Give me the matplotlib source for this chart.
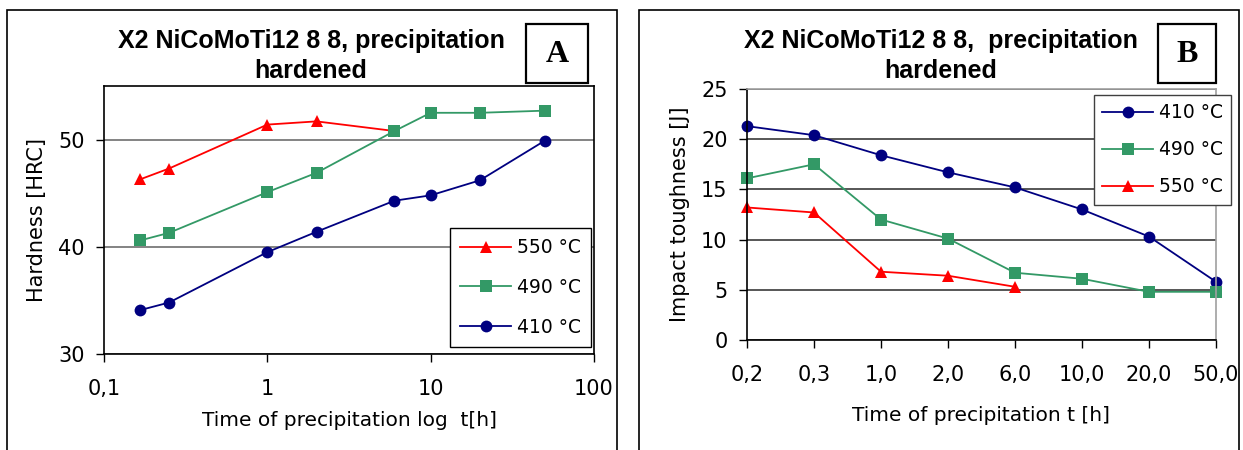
import matplotlib
matplotlib.use("Agg")
import matplotlib.pyplot as plt
from matplotlib.patches import Rectangle
from matplotlib.ticker import FixedLocator, NullLocator

# hardness vs log time (panel A)
time_h = [0.167, 0.25, 1, 2, 6, 10, 20, 50]
hard_410 = [34.1, 34.8, 39.5, 41.4, 44.3, 44.8, 46.2, 49.9]
hard_490 = [40.6, 41.3, 45.1, 46.9, 50.8, 52.5, 52.5, 52.7]
hard_550 = [46.3, 47.3, 51.4, 51.7, 50.8]

# impact toughness vs time category (panel B)
time_labels = ["0,2", "0,3", "1,0", "2,0", "6,0", "10,0", "20,0", "50,0"]
kv_410 = [21.3, 20.4, 18.4, 16.7, 15.2, 13.0, 10.3, 5.8]
kv_490 = [16.1, 17.5, 12.0, 10.1, 6.7, 6.1, 4.8, 4.8]
kv_550 = [13.2, 12.7, 6.8, 6.4, 5.3]

RED = '#FF0000'
GREEN = '#339966'
NAVY = '#000080'

W, H = 1243, 450
fig = plt.figure(figsize=(W / 100, H / 100), dpi=100)


def fx(px):
	return px / W


def fy(py):
	return 1 - py / H


def panel_frame(x0, x1):
	fig.add_artist(Rectangle((fx(x0), fy(470)), fx(x1) - fx(x0), fy(10) - fy(470),
		transform=fig.transFigure, fill=False, ec='black', lw=1.2))


def letter_box(x0, x1, letter):
	fig.add_artist(Rectangle((fx(x0), fy(83)), fx(x1) - fx(x0), fy(24) - fy(83),
		transform=fig.transFigure, fill=False, ec='black', lw=1.6))
	fig.text(fx((x0 + x1) / 2), fy(54), letter, ha='center', va='center',
		family='Liberation Serif', weight='bold', fontsize=23)


def style_axes(ax, grid_col):
	ax.tick_params(direction='out', length=6, width=1, labelsize=15, pad=8, colors='black')
	ax.yaxis.grid(True, color=grid_col, lw=1.2)
	ax.set_axisbelow(True)


def add_legend(handles, x, y, edge, spacing, pad):
	leg = fig.legend(handles=handles, loc='upper left',
		bbox_to_anchor=(fx(x), fy(y)), borderaxespad=0, fontsize=13.5,
		handlelength=2.7, labelspacing=spacing, fancybox=False, edgecolor=edge,
		framealpha=1, borderpad=pad, handletextpad=0.3)
	leg.get_frame().set_linewidth(1.0)
	return leg


line_kw = dict(lw=1.3, markersize=8.5, markeredgewidth=0)

# ---- panel A
panel_frame(7, 617)
axA = fig.add_axes([fx(104), fy(354), fx(594) - fx(104), fy(86) - fy(354)])
axA.set_xscale('log')
axA.set_xlim(0.1, 100)
axA.set_ylim(30, 55)
axA.xaxis.set_major_locator(FixedLocator([0.1, 1, 10, 100]))
axA.xaxis.set_minor_locator(NullLocator())
axA.set_xticklabels(["0,1", "1", "10", "100"])
axA.set_yticks([30, 40, 50])
style_axes(axA, '#6e6e6e')
axA.tick_params(axis='x', pad=12)
for s in axA.spines.values():
	s.set_linewidth(1.2)
lA3, = axA.plot(time_h[:len(hard_550)], hard_550, color=RED, marker='^', label='550 °C', **line_kw)
lA2, = axA.plot(time_h, hard_490, color=GREEN, marker='s', label='490 °C', **line_kw)
lA1, = axA.plot(time_h, hard_410, color=NAVY, marker='o', label='410 °C', **line_kw)
axA.set_ylabel("Hardness [HRC]", fontsize=15, labelpad=8)
axA.set_xlabel("Time of precipitation log  t[h]", fontsize=14.5, labelpad=9)
add_legend([lA3, lA2, lA1], 450, 228, 'black', 1.1, 0.55)
fig.text(fx(311), fy(56), "X2 NiCoMoTi12 8 8, precipitation\nhardened", ha='center', va='center',
	family='Liberation Sans', weight='bold', fontsize=18, linespacing=1.3)
letter_box(526, 588, "A")

# ---- panel B
panel_frame(639, 1239)
axB = fig.add_axes([fx(747), fy(340), fx(1216) - fx(747), fy(89) - fy(340)])
pos = list(range(len(time_labels)))
axB.set_xlim(0, len(time_labels) - 1)
axB.set_ylim(0, 25)
axB.set_xticks(pos)
axB.set_xticklabels(time_labels)
axB.set_yticks([0, 5, 10, 15, 20, 25])
style_axes(axB, '#3a3a3a')
axB.tick_params(axis='x', pad=12)
axB.spines['top'].set_color('#a0a0a0')
axB.spines['right'].set_color('#a0a0a0')
for s in axB.spines.values():
	s.set_linewidth(1.2)
lB1, = axB.plot(pos, kv_410, color=NAVY, marker='o', label='410 °C', clip_on=False, **line_kw)
lB2, = axB.plot(pos, kv_490, color=GREEN, marker='s', label='490 °C', clip_on=False, **line_kw)
lB3, = axB.plot(pos[:len(kv_550)], kv_550, color=RED, marker='^', label='550 °C', clip_on=False, **line_kw)
axB.set_ylabel("Impact toughness [J]", fontsize=15, labelpad=8)
axB.set_xlabel("Time of precipitation t [h]", fontsize=14.5, labelpad=15)
add_legend([lB1, lB2, lB3], 1094, 95, '#404040', 0.95, 0.45)
fig.text(fx(941), fy(56), "X2 NiCoMoTi12 8 8,  precipitation\nhardened", ha='center', va='center',
	family='Liberation Sans', weight='bold', fontsize=18, linespacing=1.3)
letter_box(1158, 1216, "B")

fig.savefig("out.png", dpi=100)
